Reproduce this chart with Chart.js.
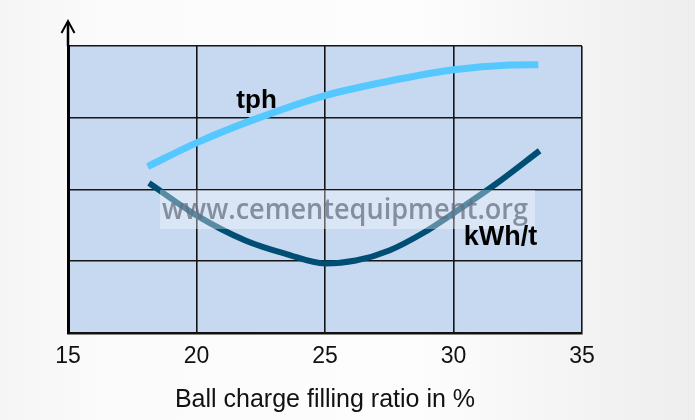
<!DOCTYPE html>
<html>
<head>
<meta charset="utf-8">
<script src="https://cdn.jsdelivr.net/npm/chart.js@4"></script>
<style>
    html, body { margin: 0; padding: 0; }
    body {
        width: 695px;
        height: 420px;
        background: linear-gradient(90deg, #f5f5f5 0%, #fbfbfb 15%, #fdfdfd 60%, #f3f3f3 85%, #eeeeee 100%);
    }
    #wrap { width: 695px; height: 420px; }
</style>
</head>
<body>
<div id="wrap"><canvas id="chart"></canvas></div>
<script>
// x axis ticks (Ball charge filling ratio in %)
const xTicks = [15, 20, 25, 30, 35];

// tph curve
const tphX = [18.1, 20.0, 22.2, 25.0, 27.9, 30.0, 32.2, 33.3];
const tphY = [2.32, 2.65, 2.97, 3.31, 3.54, 3.67, 3.735, 3.74];

// kWh/t curve
const kwhX = [18.15, 20.0, 21.9, 23.5, 25.0, 26.2, 27.5, 28.8, 30.0, 31.7, 33.35];
const kwhY = [2.09, 1.64, 1.29, 1.10, 0.97, 1.01, 1.15, 1.39, 1.67, 2.09, 2.54];

// curve labels, anchored in data units
const labelText = ['tph', 'kWh/t'];
const labelX = [21.55, 30.4];
const labelY = [3.13, 1.22];

const watermark = 'www.cementequipment.org';

const toPoints = (xs, ys) => xs.map((x, i) => ({ x: x, y: ys[i] }));

// light blue plot area
const plotBg = {
    id: 'plotBg',
    beforeDraw(chart) {
        const { ctx, chartArea: a } = chart;
        ctx.save();
        ctx.fillStyle = '#c6d9f1';
        ctx.fillRect(a.left, a.top, a.right - a.left, a.bottom - a.top);
        ctx.restore();
    },
};

// y axis arrow, watermark band and curve names
const overlay = {
    id: 'overlay',
    afterDatasetsDraw(chart) {
        const { ctx, chartArea: a, scales } = chart;
        ctx.save();

        // arrow on top of y axis
        ctx.strokeStyle = '#000';
        ctx.lineWidth = 2.5;
        ctx.beginPath();
        ctx.moveTo(a.left, a.top);
        ctx.lineTo(a.left, 22);
        ctx.stroke();
        ctx.lineWidth = 2;
        ctx.beginPath();
        ctx.moveTo(a.left - 6.5, 33);
        ctx.lineTo(a.left, 21);
        ctx.lineTo(a.left + 6.5, 33);
        ctx.stroke();

        // watermark
        ctx.fillStyle = 'rgba(255,255,255,0.35)';
        ctx.fillRect(160, 190, 375, 39);
        ctx.fillStyle = 'rgba(100,108,124,0.72)';
        ctx.font = '600 28px "Open Sans", "DejaVu Sans", sans-serif';
        ctx.textBaseline = 'middle';
        ctx.textAlign = 'left';
        ctx.fillText(watermark, 162, 211, 366);

        // curve names
        ctx.fillStyle = '#000';
        ctx.textBaseline = 'alphabetic';
        ctx.font = 'bold 26px "Liberation Sans", Arial, sans-serif';
        ctx.fillText(labelText[0], scales.x.getPixelForValue(labelX[0]), scales.y.getPixelForValue(labelY[0]));
        ctx.font = 'bold 27px "Liberation Sans", Arial, sans-serif';
        ctx.fillText(labelText[1], scales.x.getPixelForValue(labelX[1]), scales.y.getPixelForValue(labelY[1]));

        ctx.restore();
    },
};

new Chart(document.getElementById('chart'), {
    type: 'line',
    data: {
        datasets: [
            {
                label: 'tph',
                data: toPoints(tphX, tphY),
                borderColor: '#55c8ff',
                borderWidth: 7,
                pointRadius: 0,
                cubicInterpolationMode: 'monotone',
                borderCapStyle: 'butt',
            },
            {
                label: 'kWh/t',
                data: toPoints(kwhX, kwhY),
                borderColor: '#004e73',
                borderWidth: 6,
                pointRadius: 0,
                cubicInterpolationMode: 'monotone',
                borderCapStyle: 'butt',
            },
        ],
    },
    options: {
        responsive: true,
        maintainAspectRatio: false,
        animation: false,
        layout: { padding: { top: 46, right: 113, left: 0, bottom: 0 } },
        plugins: {
            legend: { display: false },
            tooltip: { enabled: false },
        },
        scales: {
            x: {
                type: 'linear',
                min: 15,
                max: 35,
                afterBuildTicks: (scale) => { scale.ticks = xTicks.map((v) => ({ value: v })); },
                afterFit: (scale) => { scale.height = 87; },
                grid: { color: '#151515', lineWidth: 1.6, drawTicks: false },
                border: { color: '#111', width: 2.5 },
                ticks: {
                    color: '#111',
                    padding: 10,
                    font: { family: '"Liberation Sans", Arial, sans-serif', size: 23 },
                },
                title: {
                    display: true,
                    text: 'Ball charge filling ratio in %',
                    color: '#111',
                    padding: { top: 0, bottom: 5 },
                    font: { family: '"Liberation Sans", Arial, sans-serif', size: 25 },
                },
            },
            y: {
                min: 0,
                max: 4,
                afterFit: (scale) => { scale.width = 68; },
                grid: { color: '#151515', lineWidth: 1.6, drawTicks: false },
                border: { color: '#000', width: 3 },
                ticks: { display: false, stepSize: 1 },
            },
        },
    },
    plugins: [plotBg, overlay],
});
</script>
</body>
</html>
